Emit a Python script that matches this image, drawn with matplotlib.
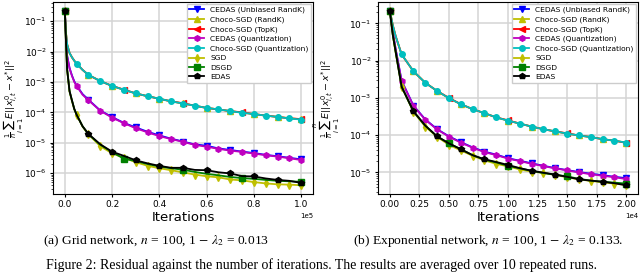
import numpy as np
import matplotlib
matplotlib.use('Agg')
import matplotlib.pyplot as plt

# ── DATA ─────────────────────────────────────────────────────────────────────
LABELS = ['CEDAS (Unbiased RandK)', 'Choco-SGD (RandK)', 'Choco-SGD (TopK)',
          'CEDAS (Quantization)', 'Choco-SGD (Quantization)', 'SGD', 'DSGD', 'EDAS']

# (a) grid network, iterations
grid_iters = [0, 500, 1000, 2000, 3000, 4000, 5000, 7500, 10000, 15000, 20000, 25000,
              30000, 35000, 40000, 45000, 50000, 55000, 60000, 65000, 70000, 75000,
              80000, 85000, 90000, 95000, 100000]
grid_cedas_randk = [0.22, 0.03, 7.2e-3, 2.9e-3, 1.65e-3, 1.05e-3, 7.6e-4, 4.0e-4, 2.6e-4, 1.15e-4,
                    7.0e-5, 4.5e-5, 3.2e-5, 2.3e-5, 1.75e-5, 1.36e-5, 1.1e-5, 8.8e-6, 8.0e-6,
                    6.5e-6, 5.8e-6, 5.1e-6, 4.6e-6, 4.0e-6, 3.6e-6, 3.2e-6, 2.85e-6]
grid_choco_randk = [0.22, 0.04, 0.017, 9.0e-3, 6.5e-3, 5.0e-3, 4.0e-3, 2.5e-3, 1.7e-3, 1.07e-3,
                    7.4e-4, 5.5e-4, 4.2e-4, 3.4e-4, 2.8e-4, 2.3e-4, 1.96e-4, 1.65e-4, 1.4e-4,
                    1.25e-4, 1.1e-4, 9.8e-5, 8.8e-5, 7.8e-5, 7.1e-5, 6.4e-5, 5.9e-5]
grid_choco_topk = [0.22, 0.04, 0.017, 9.0e-3, 6.5e-3, 5.0e-3, 4.0e-3, 2.5e-3, 1.7e-3, 1.07e-3,
                   7.4e-4, 5.6e-4, 4.2e-4, 3.4e-4, 2.8e-4, 2.3e-4, 2.0e-4, 1.65e-4, 1.4e-4,
                   1.25e-4, 1.1e-4, 1.0e-4, 8.8e-5, 7.8e-5, 7.1e-5, 6.4e-5, 6.0e-5]
grid_cedas_quant = [0.22, 0.03, 7.0e-3, 2.8e-3, 1.6e-3, 1.0e-3, 7.4e-4, 3.8e-4, 2.5e-4, 1.13e-4,
                    6.7e-5, 4.4e-5, 3.0e-5, 2.2e-5, 1.65e-5, 1.32e-5, 1.07e-5, 8.5e-6, 7.4e-6,
                    6.3e-6, 5.5e-6, 5.0e-6, 4.4e-6, 3.9e-6, 3.5e-6, 3.1e-6, 2.7e-6]
grid_choco_quant = [0.22, 0.04, 0.017, 9.0e-3, 6.5e-3, 5.0e-3, 4.0e-3, 2.5e-3, 1.7e-3, 1.07e-3,
                    7.4e-4, 5.5e-4, 4.2e-4, 3.4e-4, 2.8e-4, 2.3e-4, 1.95e-4, 1.65e-4, 1.4e-4,
                    1.25e-4, 1.1e-4, 9.7e-5, 8.8e-5, 7.8e-5, 7.1e-5, 6.3e-5, 5.8e-5]
grid_sgd = [0.22, 0.02, 2.4e-3, 4.8e-4, 2.4e-4, 1.25e-4, 8.5e-5, 3.4e-5, 1.9e-5, 7.7e-6,
            4.5e-6, 3.2e-6, 2.3e-6, 1.75e-6, 1.45e-6, 1.25e-6, 1.06e-6, 9.0e-7, 7.9e-7,
            7.3e-7, 6.2e-7, 5.8e-7, 5.1e-7, 4.6e-7, 4.3e-7, 4.2e-7, 4.0e-7]
grid_dsgd = [0.22, 0.02, 2.5e-3, 5.0e-4, 2.5e-4, 1.3e-4, 8.4e-5, 3.5e-5, 1.9e-5, 8.6e-6,
             4.9e-6, 3.0e-6, 2.5e-6, 2.0e-6, 1.65e-6, 1.45e-6, 1.3e-6, 1.1e-6, 9.5e-7,
             8.5e-7, 7.5e-7, 6.9e-7, 6.5e-7, 6.0e-7, 5.6e-7, 5.4e-7, 5.2e-7]
grid_edas = [0.22, 0.02, 2.5e-3, 5.0e-4, 2.5e-4, 1.3e-4, 8.3e-5, 3.5e-5, 1.95e-5, 8.9e-6,
             5.1e-6, 3.7e-6, 2.65e-6, 2.1e-6, 1.74e-6, 1.5e-6, 1.5e-6, 1.28e-6, 1.25e-6,
             1.07e-6, 9.8e-7, 8.0e-7, 7.8e-7, 6.7e-7, 6.0e-7, 5.6e-7, 4.8e-7]

# (b) exponential network, iterations
exp_iters = [0, 250, 500, 1000, 2000, 3000, 4000, 5000, 6000, 7000, 8000, 9000, 10000,
             11000, 12000, 13000, 14000, 15000, 16000, 17000, 18000, 19000, 20000]
exp_cedas_randk = [0.22, 0.06, 0.02, 2.9e-3, 6.2e-4, 2.65e-4, 1.45e-4, 9.3e-5, 6.5e-5, 4.7e-5,
                   3.6e-5, 3.0e-5, 2.4e-5, 2.05e-5, 1.75e-5, 1.5e-5, 1.3e-5, 1.15e-5, 1.02e-5,
                   9.2e-6, 8.4e-6, 7.6e-6, 7.0e-6]
exp_choco_randk = [0.22, 0.09, 0.045, 0.0147, 5.2e-3, 2.55e-3, 1.54e-3, 9.8e-4, 6.8e-4, 5.0e-4,
                   3.9e-4, 3.0e-4, 2.45e-4, 2.04e-4, 1.7e-4, 1.44e-4, 1.26e-4, 1.1e-4, 9.8e-5,
                   8.9e-5, 7.8e-5, 7.1e-5, 6.3e-5]
exp_choco_topk = [0.22, 0.09, 0.045, 0.0147, 5.2e-3, 2.55e-3, 1.54e-3, 1.0e-3, 6.8e-4, 5.0e-4,
                  3.9e-4, 3.0e-4, 2.5e-4, 2.04e-4, 1.7e-4, 1.44e-4, 1.26e-4, 1.12e-4, 9.8e-5,
                  8.9e-5, 7.8e-5, 7.1e-5, 6.2e-5]
exp_cedas_quant = [0.22, 0.06, 0.02, 2.8e-3, 6.1e-4, 2.6e-4, 1.42e-4, 9.1e-5, 6.3e-5, 4.6e-5,
                   3.5e-5, 2.9e-5, 2.35e-5, 2.0e-5, 1.7e-5, 1.47e-5, 1.28e-5, 1.13e-5, 1.0e-5,
                   8.9e-6, 8.1e-6, 7.4e-6, 6.6e-6]
exp_choco_quant = [0.22, 0.09, 0.045, 0.0147, 5.2e-3, 2.55e-3, 1.54e-3, 9.8e-4, 6.8e-4, 5.0e-4,
                   3.9e-4, 3.0e-4, 2.45e-4, 2.04e-4, 1.7e-4, 1.44e-4, 1.26e-4, 1.1e-4, 9.8e-5,
                   8.9e-5, 7.8e-5, 7.1e-5, 6.3e-5]
exp_sgd = [0.22, 0.05, 0.016, 2.0e-3, 4.2e-4, 1.7e-4, 9.0e-5, 5.5e-5, 3.9e-5, 2.8e-5,
           2.1e-5, 1.7e-5, 1.45e-5, 1.2e-5, 1.05e-5, 9.7e-6, 8.5e-6, 7.4e-6, 6.5e-6,
           5.9e-6, 5.4e-6, 5.0e-6, 4.6e-6]
exp_dsgd = [0.22, 0.05, 0.017, 2.0e-3, 4.3e-4, 1.8e-4, 9.2e-5, 6.0e-5, 4.2e-5, 2.9e-5,
            2.2e-5, 1.85e-5, 1.5e-5, 1.28e-5, 1.1e-5, 9.6e-6, 8.6e-6, 7.8e-6, 6.7e-6,
            6.0e-6, 5.6e-6, 5.3e-6, 5.0e-6]
exp_edas = [0.22, 0.05, 0.017, 2.0e-3, 4.4e-4, 1.8e-4, 9.3e-5, 6.0e-5, 4.2e-5, 2.9e-5,
            2.25e-5, 1.9e-5, 1.58e-5, 1.3e-5, 1.1e-5, 9.8e-6, 8.7e-6, 7.6e-6, 6.5e-6,
            6.0e-6, 5.6e-6, 5.1e-6, 4.5e-6]

CAPTION_A = r'(a) Grid network, $n$ = 100, 1 $-$ $\lambda_2$ = 0.013'
CAPTION_B = r'(b) Exponential network, $n$ = 100, 1 $-$ $\lambda_2$ = 0.133.'
CAPTION_FIG = 'Figure 2: Residual against the number of iterations. The results are averaged over 10 repeated runs.'

# ── STYLE ────────────────────────────────────────────────────────────────────
COLORS = ['blue', 'y', 'red', 'm', 'c', 'y', 'green', 'black']
MARKERS = ['v', '^', '<', 'h', 'o', 'd', 's', 'p']
# marker spacing (iterations) for each series, per panel
MARK_GRID = [10000, 10000, 25000, 5000, 5000, 5000, 25000, 10000]
MARK_EXP = [2000, 2000, 5000, 1000, 1000, 1000, 5000, 2000]

YLABEL = r'$\frac{1}{n}\sum_{i=1}^{n}E||x^{0}_{i,t}-x^{*}||^{2}$'


def draw_panel(ax, iters, series, spacing, ylab_x):
    iters = np.asarray(iters)
    for vals, col, mk, lab, sp in zip(series, COLORS, MARKERS, LABELS, spacing):
        idx = list(np.where(iters % sp == 0)[0])
        ax.plot(iters, vals, color=col, marker=mk, markevery=idx, lw=1.3, ms=4,
                label=lab)
    ax.set_yscale('log')
    ax.ticklabel_format(axis='x', style='sci', scilimits=(0, 0))
    ax.xaxis.get_offset_text().set_fontsize(5)
    ax.tick_params(axis='both', which='major', labelsize=6.5, length=2.5, width=0.8, pad=2)
    ax.tick_params(axis='both', which='minor', length=1.3, width=0.5)
    ax.grid(True, which='major', color='#d4d4d4', lw=1.1)
    ax.set_xlabel('Iterations', fontsize=9.5, labelpad=1)
    ax.set_ylabel(YLABEL, fontsize=6.8)
    ax.yaxis.set_label_coords(ylab_x, 0.5)
    ax.legend(loc='upper right', fontsize=5.4, handlelength=2.0, labelspacing=0.4,
              borderpad=0.35, borderaxespad=0.25, framealpha=1.0, edgecolor='#cccccc',
              fancybox=False)


fig = plt.figure(figsize=(6.4, 2.73), dpi=100, facecolor='white')
ax1 = fig.add_axes([53 / 640, 1 - 194 / 273, 260 / 640, 192 / 273])
ax2 = fig.add_axes([378 / 640, 1 - 194 / 273, 260 / 640, 192 / 273])

draw_panel(ax1, grid_iters,
           [grid_cedas_randk, grid_choco_randk, grid_choco_topk, grid_cedas_quant,
            grid_choco_quant, grid_sgd, grid_dsgd, grid_edas], MARK_GRID, -0.105)
draw_panel(ax2, exp_iters,
           [exp_cedas_randk, exp_choco_randk, exp_choco_topk, exp_cedas_quant,
            exp_choco_quant, exp_sgd, exp_dsgd, exp_edas], MARK_EXP, -0.14)

serif = ['Liberation Serif', 'DejaVu Serif']
fig.text(156 / 640, 1 - 241 / 273, CAPTION_A, ha='center', va='center', fontsize=9.7,
         family=serif, math_fontfamily='stix')
fig.text(488 / 640, 1 - 241 / 273, CAPTION_B, ha='center', va='center', fontsize=9.7,
         family=serif, math_fontfamily='stix')
fig.text(321 / 640, 1 - 265 / 273, CAPTION_FIG, ha='center', va='center', fontsize=10,
         family=serif)

fig.savefig('out.png', dpi=100, facecolor='white')
